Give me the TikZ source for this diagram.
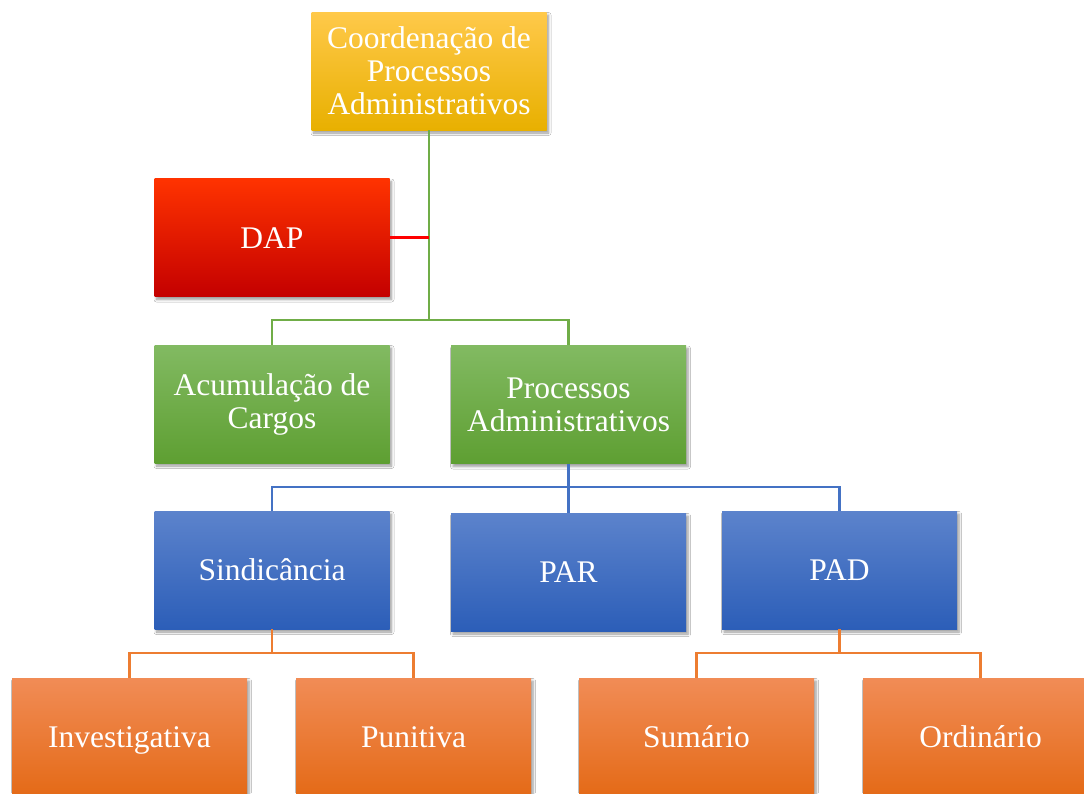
\documentclass[tikz,border=0pt]{standalone}
\usepackage{fontspec}
\setmainfont{Liberation Serif}
\usetikzlibrary{shadows.blur}
\definecolor{goldT}{HTML}{FFC94A}
\definecolor{goldM}{HTML}{FFC000}
\definecolor{goldB}{HTML}{E8B000}
\definecolor{redT}{HTML}{FF3300}
\definecolor{redM}{HTML}{FF0000}
\definecolor{redB}{HTML}{C40000}
\definecolor{grnT}{HTML}{82BA62}
\definecolor{grnM}{HTML}{6BAE40}
\definecolor{grnB}{HTML}{5E9F32}
\definecolor{bluT}{HTML}{5C83CC}
\definecolor{bluM}{HTML}{4472C4}
\definecolor{bluB}{HTML}{2C5EB8}
\definecolor{orgT}{HTML}{F18C56}
\definecolor{orgM}{HTML}{F37E2E}
\definecolor{orgB}{HTML}{E46A17}
\definecolor{lnGrn}{HTML}{70AD47}
\definecolor{lnRed}{HTML}{FF0000}
\definecolor{lnBlu}{HTML}{4472C4}
\definecolor{lnOrg}{HTML}{ED7D31}
\tikzset{
  box/.style={rectangle, minimum width=235pt, minimum height=118pt, inner sep=2pt,
    text=white, align=center, font=\fontsize{31.5}{33}\selectfont,
    blur shadow={shadow xshift=2pt, shadow yshift=-3pt, shadow blur radius=2.5pt, shadow blur steps=6, shadow opacity=40}},
  oneline/.style={text height=21pt, text depth=0pt},
  goldbox/.style={box, top color=goldT, middle color=goldM, bottom color=goldB},
  redbox/.style={box, top color=redT, middle color=redM, bottom color=redB},
  grnbox/.style={box, top color=grnT, middle color=grnM, bottom color=grnB},
  blubox/.style={box, oneline, top color=bluT, middle color=bluM, bottom color=bluB},
  orgbox/.style={box, oneline, top color=orgT, middle color=orgM, bottom color=orgB},
  conn/.style={line width=2.6pt}
}
\begin{document}
\begin{tikzpicture}[x=1pt,y=-1pt]
\fill[white] (0,0) rectangle (1084,793);
\useasboundingbox (0,0) rectangle (1084,793);
\begin{scope}
\clip (0,0) rectangle (1084,793);
\coordinate (g1) at (429,320);
\coordinate (b1) at (568.5,487);
\coordinate (o1) at (272,653);
\coordinate (o2) at (839.5,653);

\node[goldbox] (coord) at (429,71) {Coordenação de\\Processos\\Administrativos};
\node[redbox, oneline] (dap) at (272,237.5) {DAP};
\node[grnbox] (acum) at (272,404) {Acumulação de\\Cargos};
\node[grnbox] (proc) at (568.5,404.5) {Processos\\Administrativos};
\node[blubox] (sind) at (272,570) {Sindicância};
\node[blubox] (par) at (568.5,572) {PAR};
\node[blubox] (pad) at (839.5,570) {PAD};
\node[orgbox] (inv) at (129.5,737) {Investigativa};
\node[orgbox] (pun) at (413.5,737) {Punitiva};
\node[orgbox] (sum) at (696.5,737) {Sumário};
\node[orgbox] (ord) at (980.5,737) {Ordinário};

\draw[conn, lnGrn] (coord.south) -- (g1);
\draw[conn, lnGrn] (acum.north) |- (g1) -| (proc.north);
\draw[conn, lnRed] (dap.east) -- (dap.east -| g1);
\draw[conn, lnBlu] (proc.south) -- (b1);
\draw[conn, lnBlu] (sind.north) |- (b1) -| (pad.north);
\draw[conn, lnBlu] (b1) -- (par.north);
\draw[conn, lnOrg] (sind.south) -- (o1);
\draw[conn, lnOrg] (inv.north) |- (o1) -| (pun.north);
\draw[conn, lnOrg] (pad.south) -- (o2);
\draw[conn, lnOrg] (sum.north) |- (o2) -| (ord.north);
\end{scope}
\end{tikzpicture}
\end{document}
